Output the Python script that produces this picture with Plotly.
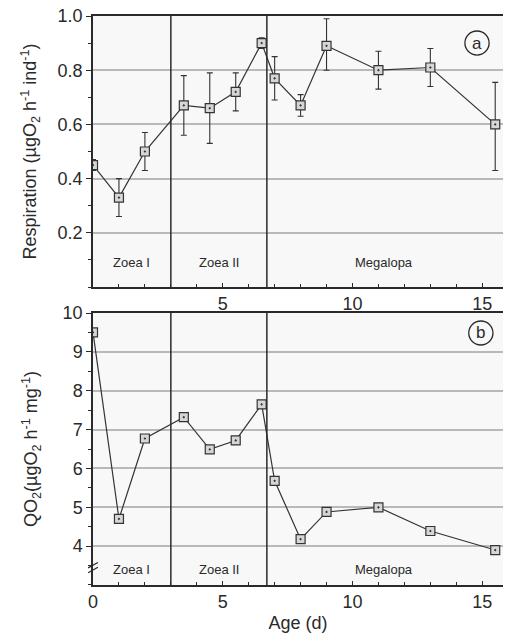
import plotly.graph_objects as go
from plotly.subplots import make_subplots

# Data
age = [0, 1, 2, 3.5, 4.5, 5.5, 6.5, 7, 8, 9, 11, 13, 15.5]
resp = [0.45, 0.33, 0.50, 0.67, 0.66, 0.72, 0.90, 0.77, 0.67, 0.89, 0.80, 0.81, 0.60]
resp_hi = [0.47, 0.40, 0.57, 0.78, 0.79, 0.79, 0.92, 0.85, 0.71, 0.99, 0.87, 0.88, 0.755]
resp_lo = [0.43, 0.26, 0.43, 0.56, 0.53, 0.65, 0.88, 0.69, 0.63, 0.80, 0.73, 0.74, 0.43]
qo2 = [9.5, 4.70, 6.77, 7.32, 6.49, 6.72, 7.65, 5.68, 4.18, 4.88, 5.0, 4.39, 3.9]
stage_bounds = [3, 6.7]
stage_names = ["Zoea I", "Zoea II", "Megalopa"]
stage_centers = [1.5, 4.85, 11.2]

err_plus = [h - v for h, v in zip(resp_hi, resp)]
err_minus = [v - l for v, l in zip(resp, resp_lo)]

fig = make_subplots(rows=2, cols=1, vertical_spacing=0.0)
FONT = "Liberation Sans"
dark = "#2a2a2a"
marker = dict(symbol="square-dot", size=9, color="#d6d6d6",
              line=dict(color="#333333", width=1.2))

fig.add_trace(go.Scatter(
    x=age, y=resp, mode="lines+markers",
    line=dict(color="#333333", width=1.2), marker=marker,
    error_y=dict(type="data", array=err_plus, arrayminus=err_minus,
                 color="#333333", thickness=1.1, width=3),
    showlegend=False), row=1, col=1)
fig.add_trace(go.Scatter(
    x=age, y=qo2, mode="lines+markers",
    line=dict(color="#333333", width=1.2), marker=marker,
    showlegend=False), row=2, col=1)

fig.update_layout(
    width=505, height=633,
    margin=dict(l=93, r=2, t=16, b=48, autoexpand=False),
    paper_bgcolor="white", plot_bgcolor="#f8f8f8",
    font=dict(family=FONT, size=18, color=dark),
    xaxis=dict(domain=[0, 1], anchor="y"),
    xaxis2=dict(domain=[0, 1], anchor="y2"),
    yaxis=dict(domain=[0.5237, 1.0], anchor="x"),
    yaxis2=dict(domain=[0.0, 0.478], anchor="x2"),
)

common_x = dict(range=[0, 15.8], showgrid=False, zeroline=False, automargin=False,
                showline=True, linecolor=dark, linewidth=1.5, mirror=True,
                ticks="inside", ticklen=4, tickcolor=dark, ticklabeloverflow="allow",
                minor=dict(dtick=1, tick0=0, ticks="inside", ticklen=3, tickcolor=dark))
fig.update_xaxes(**common_x)
fig.update_xaxes(tickvals=[5, 10, 15], ticktext=["5", "10", "15"], row=1, col=1)
fig.update_xaxes(tickvals=[0, 5, 10, 15], ticktext=["0", "5", "10", "15"],
                 title=dict(text="Age (d)", font=dict(size=18), standoff=8), row=2, col=1)

common_y = dict(showgrid=True, gridcolor="#b9b9b9", gridwidth=1.6, zeroline=False,
                showline=True, linecolor=dark, linewidth=1.5, automargin=False,
                ticks="outside", ticklen=5, tickcolor=dark, ticklabeloverflow="allow")
fig.update_yaxes(**common_y)
fig.update_yaxes(range=[0, 1.0], tickvals=[0.2, 0.4, 0.6, 0.8, 1.0],
                 ticktext=["0.2", "0.4", "0.6", "0.8", "1.0"],
                 minor=dict(dtick=0.1, tick0=0, ticks="outside", ticklen=3, tickcolor=dark, showgrid=False),
                 title=dict(text="Respiration (µgO<sub>2</sub> h<sup>-1</sup> ind<sup>-1</sup>)",
                            font=dict(size=18), standoff=16),
                 row=1, col=1)
fig.update_yaxes(range=[3, 10], tickvals=[4, 5, 6, 7, 8, 9, 10],
                 ticktext=["4", "5", "6", "7", "8", "9", "10"],
                 minor=dict(dtick=0.5, tick0=3, ticks="outside", ticklen=3, tickcolor=dark, showgrid=False),
                 title=dict(text="QO<sub>2</sub>(µgO<sub>2</sub> h<sup>-1</sup> mg<sup>-1</sup>)",
                            font=dict(size=18), standoff=20),
                 row=2, col=1)

# stage boundaries
for b in stage_bounds:
    for xr, yr in (("x", "y domain"), ("x2", "y2 domain")):
        fig.add_shape(type="line", xref=xr, yref=yr, x0=b, x1=b, y0=0, y1=1,
                      line=dict(color=dark, width=1.5))

# stage labels
for name, cx in zip(stage_names, stage_centers):
    fig.add_annotation(x=cx, y=0.09, xref="x", yref="y", text=name, showarrow=False,
                       font=dict(size=13, color=dark))
    fig.add_annotation(x=cx, y=3.4, xref="x2", yref="y2", text=name, showarrow=False,
                       font=dict(size=13, color=dark))

# panel letters
letters = [("a", 0.9366, 0.9525), ("b", 0.946, 0.4429)]
for lab, px, py in letters:
    fig.add_annotation(x=px, y=py, xref="paper", yref="paper", text=lab, showarrow=False,
                       xanchor="center", yanchor="middle", font=dict(size=17, color=dark))
    fig.add_shape(type="circle", xref="paper", yref="paper",
                  x0=px - 0.0295, x1=px + 0.0295, y0=py - 0.0211, y1=py + 0.0211,
                  line=dict(color=dark, width=1.3))

# axis break marks
for dy in (0.0, 0.018):
    fig.add_shape(type="line", xref="x2 domain", yref="y2 domain",
                  x0=-0.012, x1=0.012, y0=0.045 + dy, y1=0.065 + dy,
                  line=dict(color=dark, width=1.2))

fig.write_html("out.html", config={"displayModeBar": False},
               post_script="document.body.style.margin='0';document.body.style.overflow='hidden';")
